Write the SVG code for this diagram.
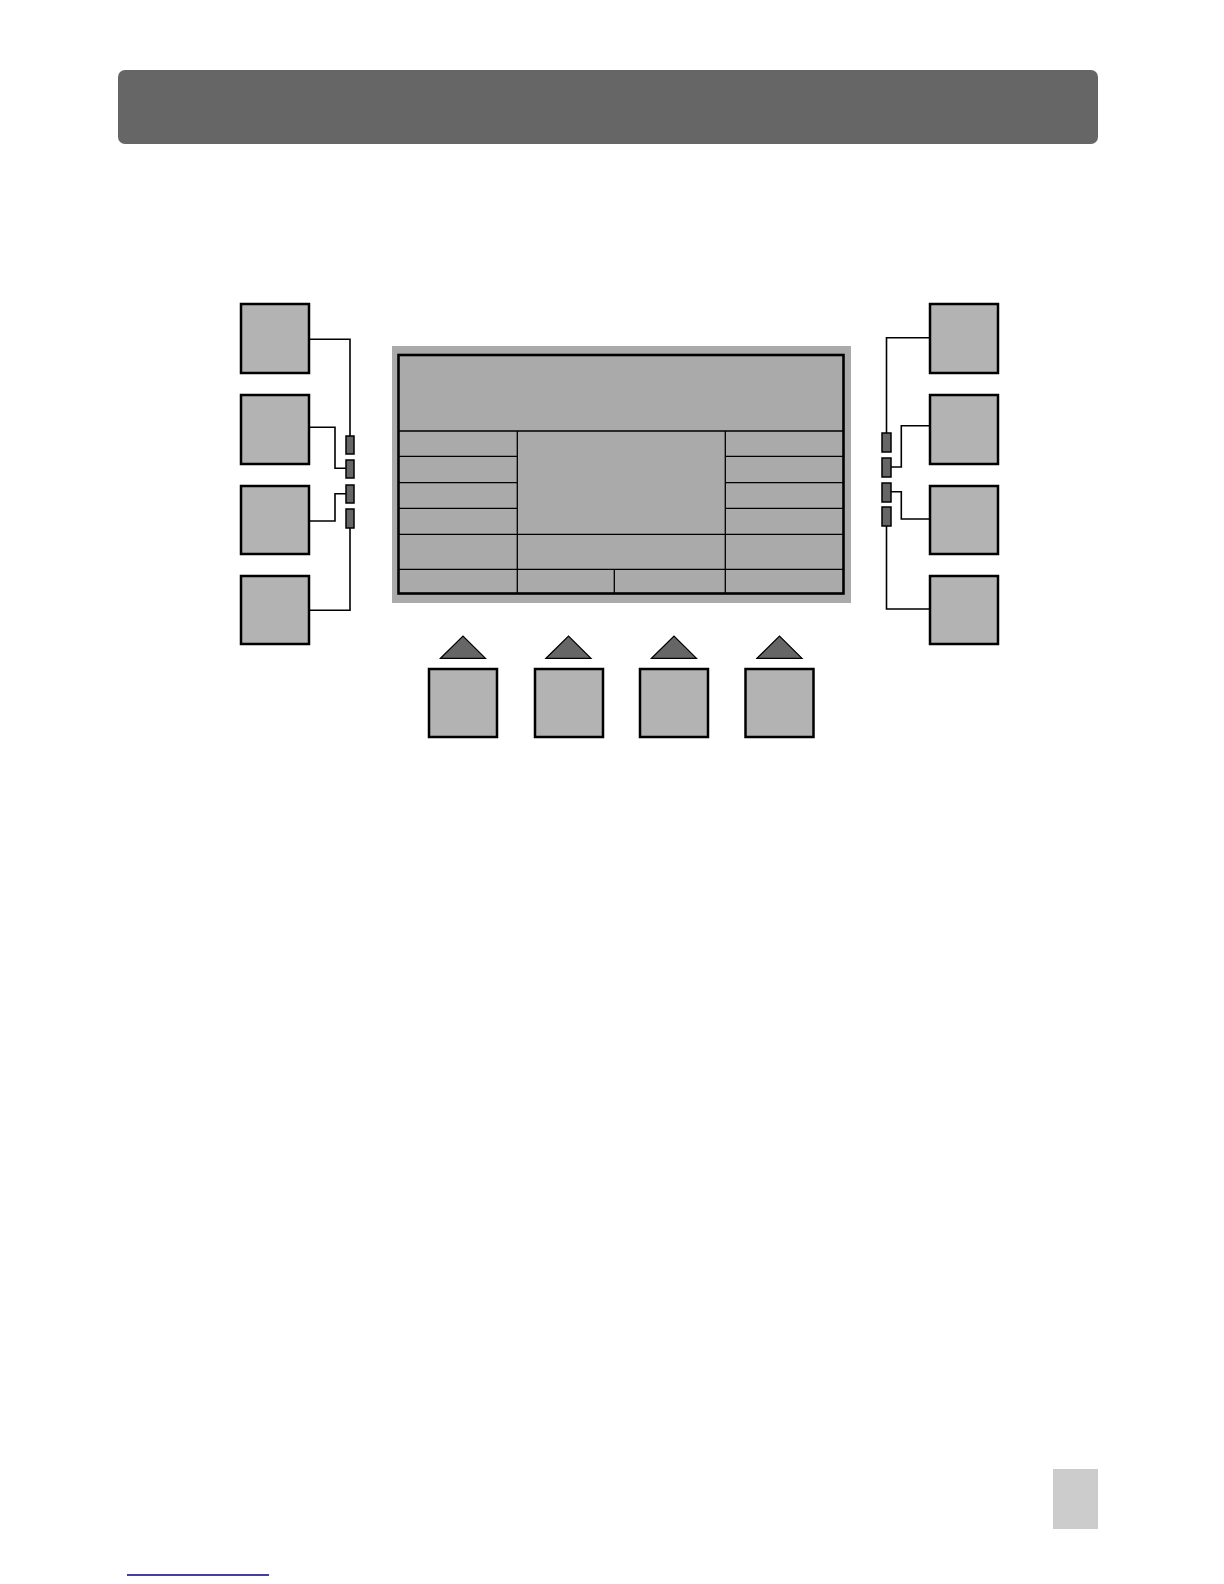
<svg xmlns="http://www.w3.org/2000/svg" width="1224" height="1584" viewBox="0 0 1224 1584">
<style>
.btn{fill:#b3b3b3;stroke:#000;stroke-width:2.5}
.led{fill:#666;stroke:#000;stroke-width:1.5}
.tri{fill:#666;stroke:#000;stroke-width:1.2}
.ln{fill:none;stroke:#000;stroke-width:1.6}
.grid{fill:none;stroke:#000;stroke-width:1.3}
</style>
<rect width="1224" height="1584" fill="#fff"/>
<rect id="header" x="118" y="70" width="980" height="74" rx="7" fill="#666"/>
<g id="screen">
<rect x="392" y="346" width="459" height="257" fill="#aaa"/>
<rect x="398.5" y="355" width="445" height="238.5" fill="#aaa" stroke="#000" stroke-width="2.6"/>
<path class="grid" d="M399 431H843M399 456.3H517.3M399 482.7H517.3M399 508.3H517.3M725.3 456.3H843M725.3 482.7H843M725.3 508.3H843M399 534.3H843M399 569.3H843M517.3 431V593M725.3 431V593M614.3 569.3V593"/>
</g>
<g id="left-buttons">
<rect id="L1" class="btn" x="241" y="304" width="68" height="69"/>
<rect id="L2" class="btn" x="241" y="395" width="68" height="69"/>
<rect id="L3" class="btn" x="241" y="486" width="68" height="68"/>
<rect id="L4" class="btn" x="241" y="576" width="68" height="68"/>
</g>
<g id="left-leds">
<rect class="led" x="346" y="436" width="8" height="18"/>
<rect class="led" x="346" y="460" width="8" height="18"/>
<rect class="led" x="346" y="485" width="8" height="18"/>
<rect class="led" x="346" y="509" width="8" height="19"/>
</g>
<g id="right-buttons">
<rect id="R1" class="btn" x="930" y="304" width="68" height="69"/>
<rect id="R2" class="btn" x="930" y="395" width="68" height="69"/>
<rect id="R3" class="btn" x="930" y="486" width="68" height="68"/>
<rect id="R4" class="btn" x="930" y="576" width="68" height="68"/>
</g>
<g id="right-leds">
<rect class="led" x="882" y="433" width="9" height="19"/>
<rect class="led" x="882" y="458" width="9" height="19"/>
<rect class="led" x="882" y="483" width="9" height="19"/>
<rect class="led" x="882" y="507" width="9" height="19"/>
</g>
<g id="bottom-buttons">
<rect id="B1" class="btn" x="429" y="669" width="68" height="68"/>
<rect id="B2" class="btn" x="535" y="669" width="68" height="68"/>
<rect id="B3" class="btn" x="640" y="669" width="68" height="68"/>
<rect id="B4" class="btn" x="745.5" y="669" width="68" height="68"/>
<polygon class="tri" points="440.5,658.3 463,636 485.5,658.3"/>
<polygon class="tri" points="546,658.3 568.5,636 591,658.3"/>
<polygon class="tri" points="651.5,658.3 674,636 696.5,658.3"/>
<polygon class="tri" points="757,658.3 779.5,636 802,658.3"/>
</g>
<g id="connectors">
<path class="ln" d="M309 339.3H350V436"/>
<path class="ln" d="M309 427.3H335V468.3H346"/>
<path class="ln" d="M309 521H335V493.7H346"/>
<path class="ln" d="M309 610.3H350V528"/>
<path class="ln" d="M930 337.7H886.5V433"/>
<path class="ln" d="M930 425.7H901.3V467H891"/>
<path class="ln" d="M891 491.7H901.3V519H930"/>
<path class="ln" d="M886.5 526V609H930"/>
</g>
<rect id="page-tab" x="1053" y="1469" width="45" height="60" fill="#ccc"/>
<line x1="127" y1="1575" x2="269" y2="1575" stroke="#000080" stroke-width="1.5"/>
</svg>
